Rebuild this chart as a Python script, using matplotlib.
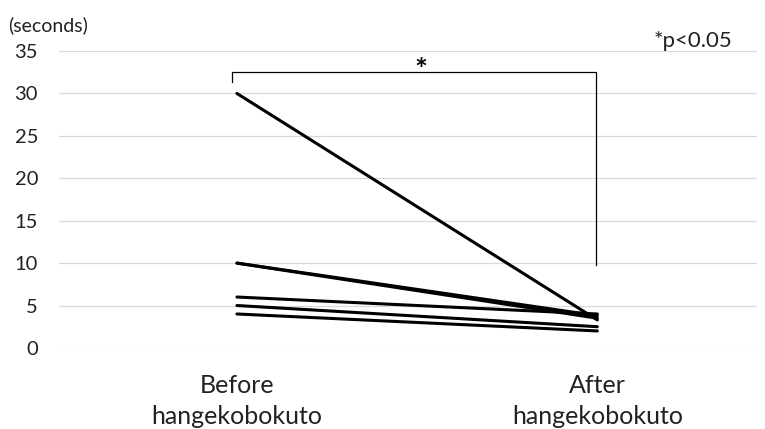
import matplotlib
matplotlib.use('Agg')
import matplotlib.pyplot as plt

plt.rcParams['font.family'] = ['Lato', 'DejaVu Sans']

categories = ['Before\nhangekobokuto', 'After\nhangekobokuto']
before = [30, 10, 10, 6, 5, 4]
after = [3.3, 3.5, 3.8, 4.0, 2.5, 2.0]
yticks = [0, 5, 10, 15, 20, 25, 30, 35]
bracket_top = 32.5
bracket_left_end = 31.4
bracket_right_end = 9.8


def main():
    fig = plt.figure(figsize=(7.65, 4.29), dpi=100)
    ax = fig.add_axes([0.077, 0.189, 0.913, 0.692])

    xs = [0, 1]
    for b, a in zip(before, after):
        ax.plot(xs, [b, a], color='black', linewidth=2.2, solid_capstyle='round')

    # significance bracket
    ax.plot([-0.015, -0.015, 0.995, 0.995],
            [bracket_left_end, bracket_top, bracket_top, bracket_right_end],
            color='black', linewidth=0.9)
    ax.text(0.51, bracket_top + 0.2, '*', ha='center', va='center',
            fontsize=22, fontweight='bold')

    ax.set_xlim(-0.494, 1.444)
    ax.set_ylim(0, 35)
    ax.set_yticks(yticks)
    ax.set_xticks(xs)
    ax.set_xticklabels(categories, fontsize=18, linespacing=1.42)
    ax.tick_params(axis='y', length=0, labelsize=14.5, pad=15, colors='#222222')
    ax.tick_params(axis='x', length=0, pad=19, colors='#222222')
    ax.grid(axis='y', color='#d9d9d9', linewidth=0.9)
    ax.set_axisbelow(True)
    for s in ax.spines.values():
        s.set_visible(False)

    fig.text(0.010, 0.942, '(seconds)', fontsize=14, va='center', color='#222222')
    fig.text(0.855, 0.905, '*p<0.05', fontsize=16, va='center', color='#222222')

    fig.savefig('out.png', dpi=100)


if __name__ == "__main__":
    main()
